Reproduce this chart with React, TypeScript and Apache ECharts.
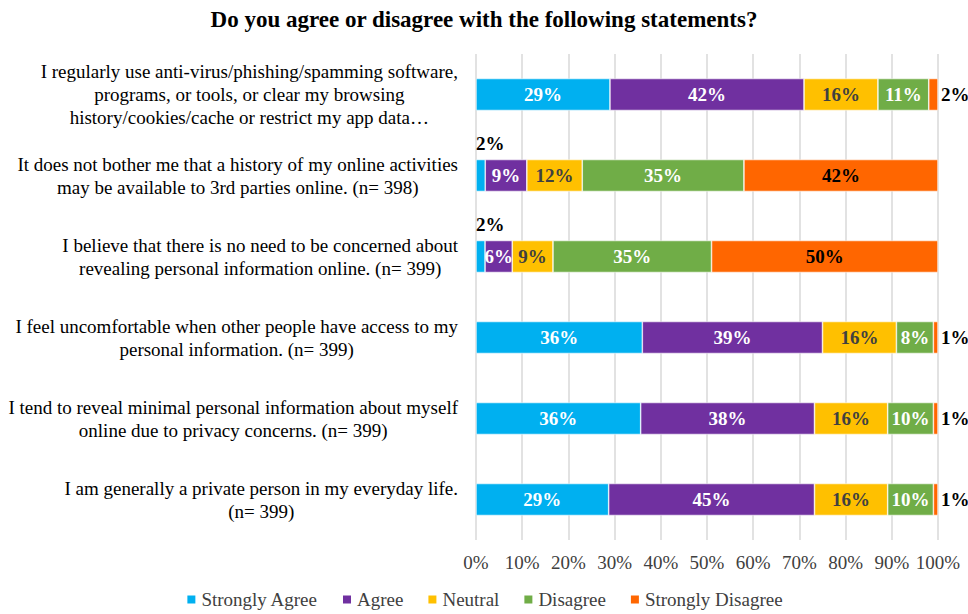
import React, { useEffect, useRef } from "react";
import * as echarts from "echarts";

const FONT = "'Liberation Serif', 'Times New Roman', serif";

const categories = [
  "I regularly use anti-virus/phishing/spamming software,\nprograms, or tools, or clear my browsing\nhistory/cookies/cache or restrict my app data…",
  "It does not bother me that a history of my online activities\nmay be available to 3rd parties online. (n= 398)",
  "I believe that there is no need to be concerned about\nrevealing personal information online. (n= 399)",
  "I feel uncomfortable when other people have access to my\npersonal information. (n= 399)",
  "I tend to reveal minimal personal information about myself\nonline due to privacy concerns. (n= 399)",
  "I am generally a private person in my everyday life.\n(n= 399)",
];

const seriesNames = ["Strongly Agree", "Agree", "Neutral", "Disagree", "Strongly Disagree"];
const stronglyAgree = [29, 2, 2, 36, 36, 29];
const agree = [42, 9, 6, 39, 38, 45];
const neutral = [16, 12, 9, 16, 16, 16];
const disagree = [11, 35, 35, 8, 10, 10];
const stronglyDisagree = [2, 42, 50, 1, 1, 1];

const colors = ["#00B0F0", "#7030A0", "#FFC000", "#70AD47", "#FF6600"];
const labelColors = ["#ffffff", "#ffffff", "#404040", "#ffffff", "#000000"];

export default function App() {
  const ref = useRef<HTMLDivElement>(null);
  useEffect(() => {
    const chart = echarts.init(ref.current!, null, { renderer: "svg" });
    const all = [stronglyAgree, agree, neutral, disagree, stronglyDisagree];
    const totals = categories.map((_, i) => all.reduce((s, a) => s + a[i], 0));

    const series = all.map((arr, si) => ({
      name: seriesNames[si],
      type: "bar",
      stack: "total",
      barWidth: 32,
      itemStyle: { color: colors[si], borderColor: "#ffffff", borderWidth: 0.6 },
      label: {
        show: true,
        position: "inside",
        fontFamily: FONT,
        fontSize: 19,
        fontWeight: "bold",
        color: labelColors[si],
        formatter: (p: any) => `${p.data.raw}%`,
      },
      data: arr.map((v, i) => {
        const item: any = { value: (v / totals[i]) * 100, raw: v };
        if (si === 4 && v <= 2) {
          item.label = { position: "right", distance: 3, color: "#000000" };
        }
        if (si === 0 && v <= 2) {
          item.label = { position: [0, -26], color: "#000000" };
        }
        return item;
      }),
    }));

    chart.setOption({
      animation: false,
      color: colors,
      title: {
        text: "Do you agree or disagree with the following statements?",
        left: "center",
        top: 3,
        textStyle: { fontFamily: FONT, fontSize: 23, fontWeight: "bold", color: "#000000" },
      },
      legend: {
        bottom: 0,
        left: "center",
        icon: "rect",
        itemWidth: 10,
        itemHeight: 10,
        itemGap: 23,
        textStyle: { fontFamily: FONT, fontSize: 19, color: "#404040" },
        data: seriesNames,
      },
      grid: { left: 476, right: 30, top: 54, bottom: 74, containLabel: false },
      xAxis: {
        type: "value",
        min: 0,
        max: 100,
        interval: 10,
        axisLine: { show: false },
        axisTick: { show: false },
        splitLine: { show: true, lineStyle: { color: "#D9D9D9", width: 1.5 } },
        axisLabel: {
          formatter: "{value}%",
          fontFamily: FONT,
          fontSize: 19,
          color: "#404040",
          margin: 13,
        },
      },
      yAxis: {
        type: "category",
        inverse: true,
        data: categories,
        axisLine: { show: false },
        axisTick: { show: false },
        axisLabel: {
          margin: 18,
          align: "right",
          formatter: (v: string) => v.split("\n").map((l) => `{c|${l}}`).join("\n"),
          rich: {
            c: {
              align: "center",
              fontFamily: FONT,
              fontSize: 19,
              lineHeight: 23,
              color: "#000000",
            },
          },
        },
      },
      series,
    });
    return () => chart.dispose();
  }, []);
  return <div ref={ref} style={{ position: "absolute", left: 0, top: 0, width: 968, height: 614 }} />;
}
